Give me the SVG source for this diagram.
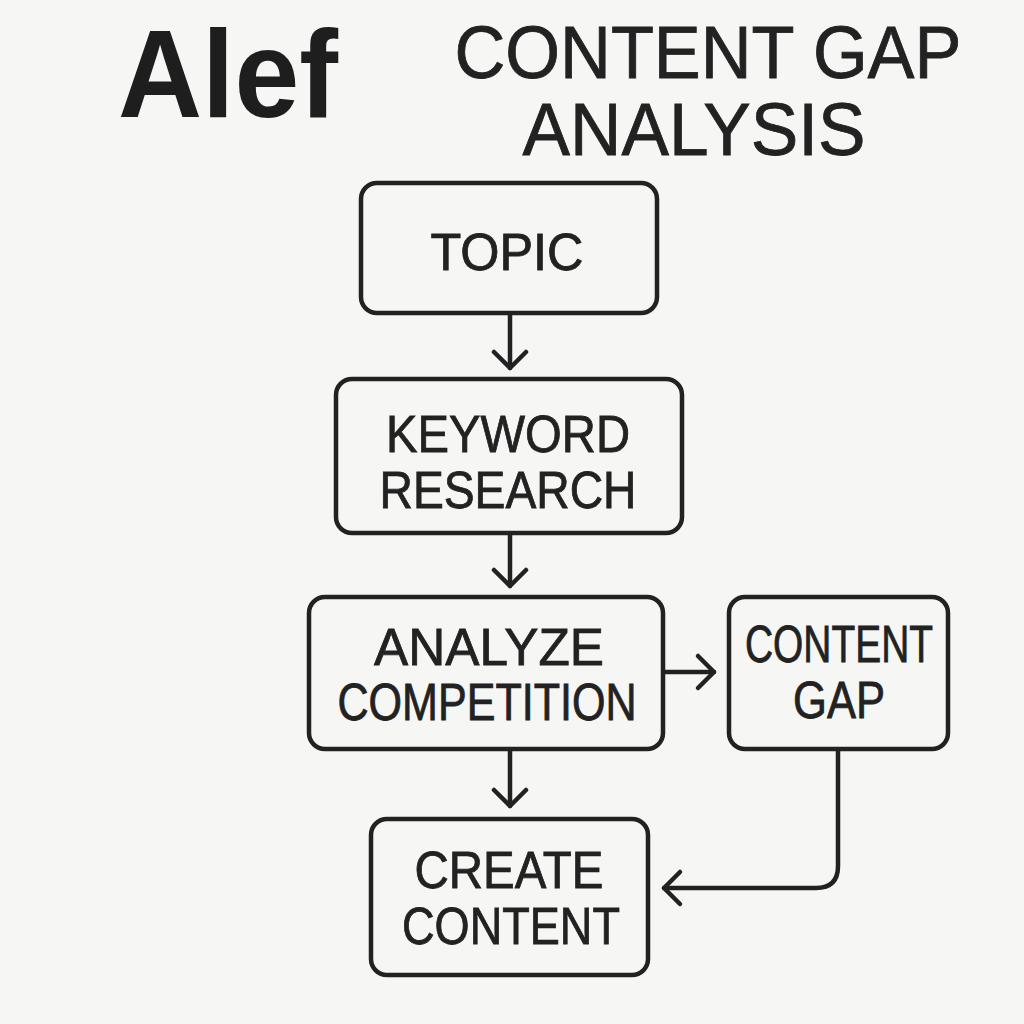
<svg xmlns="http://www.w3.org/2000/svg" width="1024" height="1024" viewBox="0 0 1024 1024">
<style>
.box{fill:none;stroke:#222;stroke-width:4.5;}
.lbl{font-family:"Liberation Sans","DejaVu Sans",sans-serif;font-size:52px;fill:#222;stroke:#222;stroke-width:0.8;text-anchor:middle;}
.ttl{font-family:"Liberation Sans","DejaVu Sans",sans-serif;font-size:74px;fill:#222;stroke:#222;stroke-width:0.8;text-anchor:middle;}
.con{fill:none;stroke:#222;stroke-width:4.5;stroke-linecap:round;stroke-linejoin:round;}
</style>
<defs>
<marker id="ah" markerUnits="userSpaceOnUse" markerWidth="40" markerHeight="40" refX="20" refY="20" orient="auto">
<path d="M4,4 L20,20 L4,36" fill="none" stroke="#222" stroke-width="4.5" stroke-linecap="round" stroke-linejoin="round"/>
</marker>
</defs>
<rect width="1024" height="1024" fill="#f6f6f4"/>
<g id="title">
<text x="228" y="117" font-family="Liberation Sans, DejaVu Sans, sans-serif" font-weight="bold" font-size="124" fill="#1e1e1e" text-anchor="middle" textLength="220" lengthAdjust="spacingAndGlyphs">Alef</text>
<text class="ttl" x="708" y="78" textLength="507" lengthAdjust="spacingAndGlyphs">CONTENT GAP</text>
<text class="ttl" x="694" y="155" textLength="343" lengthAdjust="spacingAndGlyphs">ANALYSIS</text>
</g>
<g id="connectors">
<line class="con" x1="510" y1="315" x2="510" y2="368" marker-end="url(#ah)"/>
<line class="con" x1="510" y1="535" x2="510" y2="586" marker-end="url(#ah)"/>
<line class="con" x1="665" y1="672" x2="714" y2="672" marker-end="url(#ah)"/>
<line class="con" x1="510" y1="751" x2="510" y2="806" marker-end="url(#ah)"/>
<path class="con" d="M838,751 V866 Q838,888 816,888 H664" marker-end="url(#ah)"/>
</g>
<g id="topic">
<rect class="box" x="361" y="183" width="296" height="130" rx="16"/>
<text class="lbl" x="507" y="270" textLength="153" lengthAdjust="spacingAndGlyphs">TOPIC</text>
</g>
<g id="keyword-research">
<rect class="box" x="336" y="379" width="346" height="154" rx="16"/>
<text class="lbl" x="508" y="452" textLength="244" lengthAdjust="spacingAndGlyphs">KEYWORD</text>
<text class="lbl" x="508" y="508" textLength="257" lengthAdjust="spacingAndGlyphs">RESEARCH</text>
</g>
<g id="analyze-competition">
<rect class="box" x="309" y="597" width="354" height="152" rx="16"/>
<text class="lbl" x="489" y="665" textLength="230" lengthAdjust="spacingAndGlyphs">ANALYZE</text>
<text class="lbl" x="487" y="720" textLength="299" lengthAdjust="spacingAndGlyphs">COMPETITION</text>
</g>
<g id="content-gap">
<rect class="box" x="729" y="597" width="219" height="152" rx="16"/>
<text class="lbl" x="839" y="662" font-size="45" textLength="188" lengthAdjust="spacingAndGlyphs">CONTENT</text>
<text class="lbl" x="839" y="718" font-size="45" textLength="92" lengthAdjust="spacingAndGlyphs">GAP</text>
</g>
<g id="create-content">
<rect class="box" x="371" y="819" width="277" height="156" rx="16"/>
<text class="lbl" x="509" y="888" textLength="189" lengthAdjust="spacingAndGlyphs">CREATE</text>
<text class="lbl" x="511" y="944" textLength="218" lengthAdjust="spacingAndGlyphs">CONTENT</text>
</g>
</svg>
